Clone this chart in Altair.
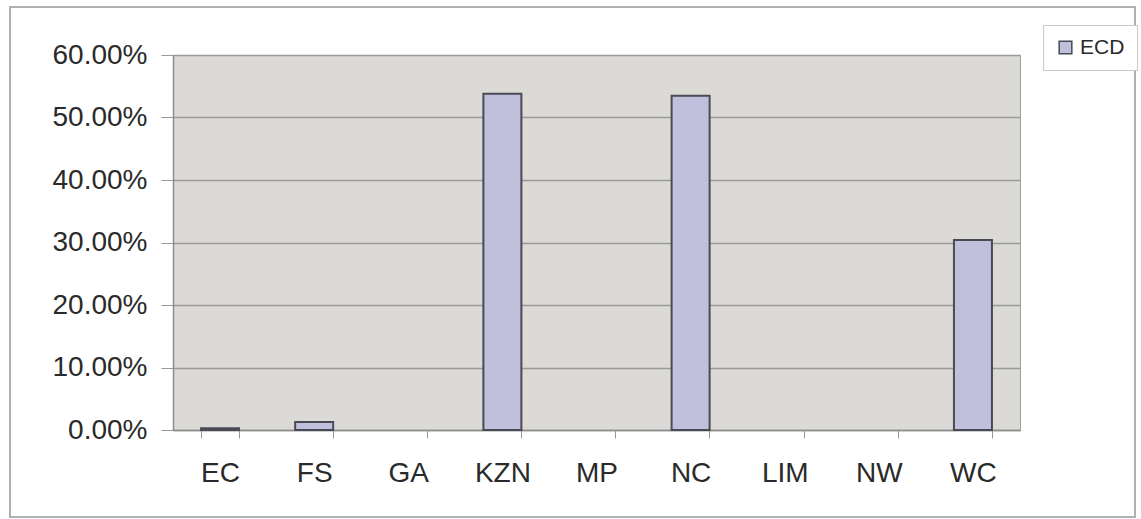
import altair as alt
import pandas as pd

# Provinces and their ECD share
provinces = ["EC", "FS", "GA", "KZN", "MP", "NC", "LIM", "NW", "WC"]
ecd_share = [0.003, 0.013, 0.0, 0.538, 0.0, 0.535, 0.0, 0.0, 0.304]
series_name = ["ECD"] * len(provinces)

df = pd.DataFrame({"province": provinces, "share": ecd_share, "series": series_name})

FONT = "Liberation Sans"
TEXT = "#2a2a2a"
PLOT_W, PLOT_H = 847, 375

bars = alt.Chart(df).mark_bar(
    stroke="#4a4a55", strokeWidth=2, size=38
).encode(
    x=alt.X(
        "province:N",
        sort=provinces,
        title=None,
        scale=alt.Scale(paddingInner=0.6, paddingOuter=0.3),
        axis=alt.Axis(
            labelAngle=0, labelFontSize=28, labelFont=FONT, labelColor=TEXT,
            labelPadding=21, tickBand="extent", tickSize=8, tickColor="#999999",
            domainColor="#8c8c8c", domainWidth=1.5, grid=False,
        ),
    ),
    y=alt.Y(
        "share:Q",
        title=None,
        scale=alt.Scale(domain=[0, 0.6], nice=False),
        axis=alt.Axis(
            format=".2%", values=[0, 0.1, 0.2, 0.3, 0.4, 0.5, 0.6],
            labelFontSize=28, labelFont=FONT, labelColor=TEXT,
            labelPadding=14, tickSize=12, tickColor="#999999",
            domainColor="#8c8c8c", domainWidth=1.5,
            gridColor="#9a9a9a", gridWidth=1.5,
        ),
    ),
    color=alt.Color(
        "series:N",
        scale=alt.Scale(range=["#c0c0dd"]),
        legend=alt.Legend(
            title=None, orient="none", legendX=870, legendY=-30,
            symbolType="square", symbolSize=160, symbolStrokeColor="#4a4a55",
            symbolStrokeWidth=1.5, labelFont=FONT, labelFontSize=21,
            labelColor=TEXT, strokeColor="#c8c8c8", padding=12,
            fillColor="white", labelOffset=4,
        ),
    ),
    # zero-valued provinces draw no outline on the baseline
    strokeOpacity=alt.condition("datum.share > 0", alt.value(1), alt.value(0)),
)

# Outer chart border
frame = alt.Chart(df).mark_rect(
    fill=None, stroke="#b0b0b0", strokeWidth=1.5, clip=False
).encode(
    x=alt.value(-163), x2=alt.value(962), y=alt.value(-48), y2=alt.value(462)
)

chart = alt.layer(frame, bars).properties(
    width=PLOT_W,
    height=PLOT_H,
    padding={"left": 173, "top": 55, "right": 121, "bottom": 89},
    autosize=alt.AutoSizeParams(type="none"),
    background="white",
).configure_view(
    fill="#dcdad7", stroke="#a0a0a0", strokeWidth=1
)

chart.save("out.html", embed_options={"renderer": "svg", "actions": False})
